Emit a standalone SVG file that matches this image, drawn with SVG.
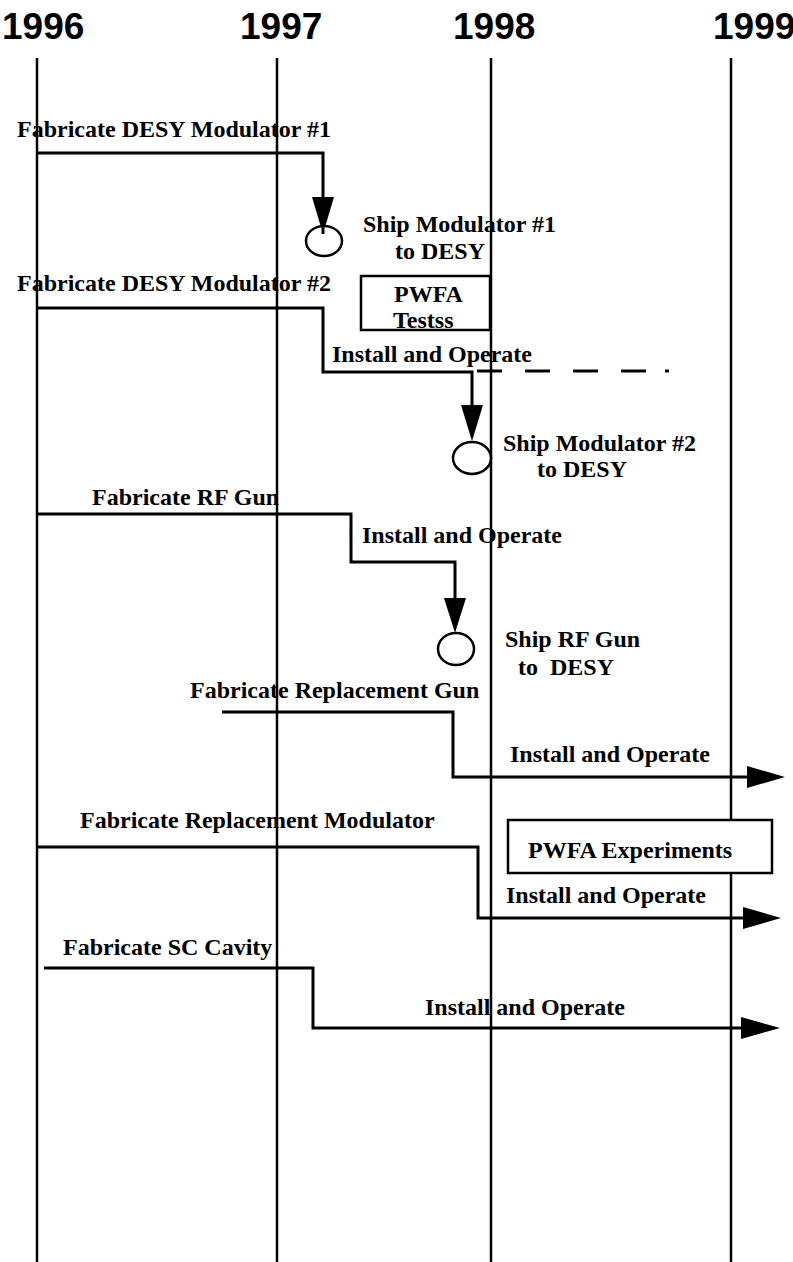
<svg xmlns="http://www.w3.org/2000/svg" width="793" height="1262" viewBox="0 0 793 1262">
<style>
.yr{font-family:"Liberation Sans",Arial,sans-serif;font-weight:bold;font-size:37px;fill:#000}
.lb{font-family:"Liberation Serif","Times New Roman",serif;font-weight:bold;font-size:24px;fill:#000}
.grid{stroke:#000;stroke-width:2.5;fill:none}
.cn{stroke:#000;stroke-width:3;fill:none}
.ah{fill:#000;stroke:none}
.ms{stroke:#000;stroke-width:2.5;fill:#fff}
.bx{stroke:#000;stroke-width:2.5;fill:#fff}
</style>
<rect width="793" height="1262" fill="#fff"/>
<g id="timeline">
<text class="yr" x="2" y="39">1996</text>
<text class="yr" x="240" y="39">1997</text>
<text class="yr" x="453" y="39">1998</text>
<text class="yr" x="713" y="39">1999</text>
<line class="grid" x1="37" y1="58" x2="37" y2="1262"/>
<line class="grid" x1="277" y1="58" x2="277" y2="1262"/>
<line class="grid" x1="491" y1="58" x2="491" y2="1262"/>
<line class="grid" x1="731" y1="58" x2="731" y2="1262"/>
</g>
<g id="pwfa-tests">
<rect class="bx" x="361" y="276" width="129" height="54"/>
<text class="lb" x="394" y="302">PWFA</text>
<text class="lb" x="393" y="328">Testss</text>
</g>
<g id="pwfa-experiments">
<rect class="bx" x="508" y="820" width="264" height="53"/>
<text class="lb" x="528" y="858">PWFA Experiments</text>
</g>
<g id="connectors">
<path class="cn" d="M37,153 H323 V200"/>
<polygon class="ah" points="312,197 334,197 323,234"/>
<path class="cn" d="M37,308 H323 V372 H472 V408"/>
<path class="cn" d="M477,371 H647" stroke-dasharray="25 23"/>
<path class="cn" d="M665,371 H669"/>
<polygon class="ah" points="461,405 483,405 472,441"/>
<path class="cn" d="M37,514 H351 V562 H455 V600"/>
<polygon class="ah" points="444,598 466,598 455,633"/>
<path class="cn" d="M222,712 H453 V777 H750"/>
<polygon class="ah" points="747,766 785,777 747,788"/>
<path class="cn" d="M37,847 H478 V918 H746"/>
<polygon class="ah" points="743,907 781,918 743,929"/>
<path class="cn" d="M44,968 H313 V1028 H744"/>
<polygon class="ah" points="741,1017 780,1028 741,1039"/>
</g>
<g id="ship-mod1">
<ellipse class="ms" cx="324" cy="241" rx="18" ry="15"/>
<line class="cn" x1="323" y1="226" x2="323" y2="234"/>
<text class="lb" x="363" y="232">Ship Modulator #1</text>
<text class="lb" x="395" y="259">to DESY</text>
</g>
<g id="ship-mod2">
<ellipse class="ms" cx="472" cy="458" rx="19" ry="16"/>
<text class="lb" x="503" y="451">Ship Modulator #2</text>
<text class="lb" x="537" y="477">to DESY</text>
</g>
<g id="ship-gun">
<ellipse class="ms" cx="456" cy="649" rx="18" ry="16"/>
<text class="lb" x="505" y="647">Ship RF Gun</text>
<text class="lb" x="518" y="675" xml:space="preserve">to  DESY</text>
</g>
<g id="labels">
<text class="lb" x="17" y="137">Fabricate DESY Modulator #1</text>
<text class="lb" x="17" y="291">Fabricate DESY Modulator #2</text>
<text class="lb" x="332" y="362">Install and Operate</text>
<text class="lb" x="92" y="505">Fabricate RF Gun</text>
<text class="lb" x="362" y="543">Install and Operate</text>
<text class="lb" x="190" y="698">Fabricate Replacement Gun</text>
<text class="lb" x="510" y="762">Install and Operate</text>
<text class="lb" x="80" y="828">Fabricate Replacement Modulator</text>
<text class="lb" x="506" y="903">Install and Operate</text>
<text class="lb" x="63" y="955">Fabricate SC Cavity</text>
<text class="lb" x="425" y="1015">Install and Operate</text>
</g>
</svg>
